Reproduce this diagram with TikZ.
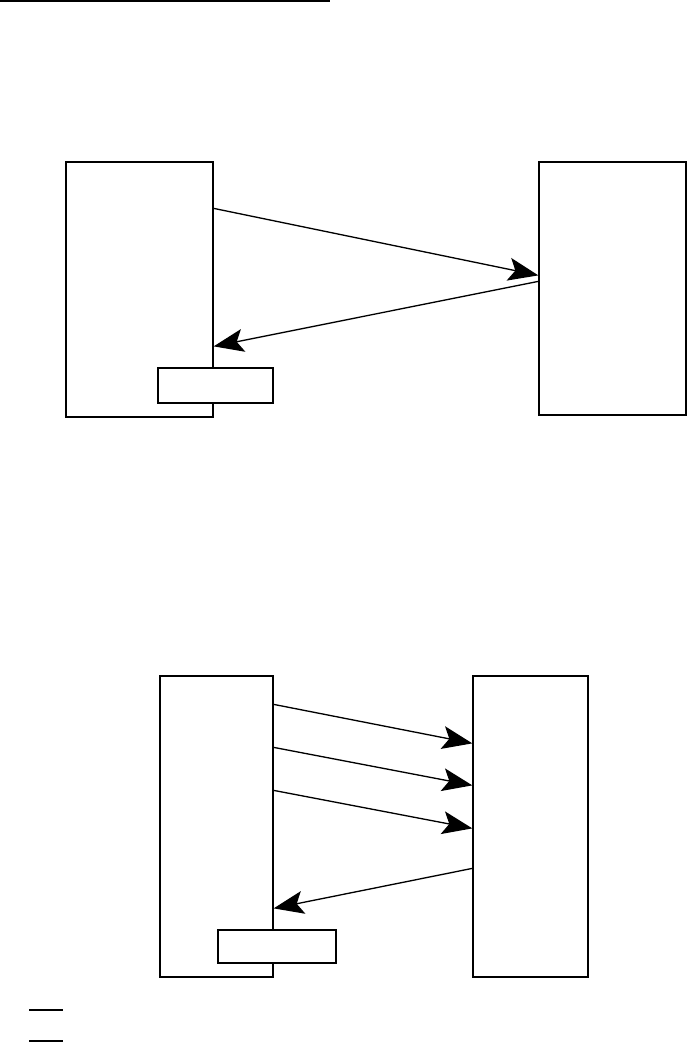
\documentclass[tikz,border=0pt]{standalone}
\usetikzlibrary{arrows.meta, positioning, calc}

\begin{document}
\begin{tikzpicture}[
    x=0.02cm, y=-0.02cm,
    host/.style={draw, line width=0.75pt, minimum width=2.94cm, minimum height=5.1cm, inner sep=0pt},
    tag/.style={draw, fill=white, line width=0.75pt, minimum width=2.3cm, minimum height=0.7cm, inner sep=0pt},
    arrow/.style={-{Stealth[length=0.6cm, width=0.46cm, inset=0.13cm]}, line width=0.75pt},
    rule/.style={line width=1.2pt}
]
\useasboundingbox (0,0) rectangle (688,1042);

\draw[rule] (0,1) -- (330,1);

% first exchange
\node[host] (hostA1) at (139.5, 289.5) {};
\node[host, minimum height=5.06cm] (hostA2) at (612.5, 288.5) {};
\node[tag] (tagA) at (215.5, 385.5) {};
\draw[arrow] ($(hostA1.north east)+(0,47)$) -- ($(hostA2.north west)+(0,114)$);
\draw[arrow] ($(hostA2.north west)+(0,120)$) -- ($(hostA1.north east)+(0,185)$);

% second exchange
\node[host, minimum width=2.26cm, minimum height=6.02cm] (hostB1) at (216.5, 826.5) {};
\node[host, minimum width=2.3cm, minimum height=6.02cm] (hostB2) at (530.5, 826.5) {};
\node[tag, minimum width=2.36cm, minimum height=0.66cm] (tagB) at (277, 946.5) {};
\foreach \a/\b in {29/68, 72/110, 115/153} {
    \draw[arrow] ($(hostB1.north east)+(0,\a)$) -- ($(hostB2.north west)+(0,\b)$);
}
\draw[arrow] ($(hostB2.north west)+(0,193)$) -- ($(hostB1.north east)+(0,233)$);

\draw[rule] (29,1010) -- (63,1010);
\draw[rule] (29,1041) -- (63,1041);

\end{tikzpicture}
\end{document}
